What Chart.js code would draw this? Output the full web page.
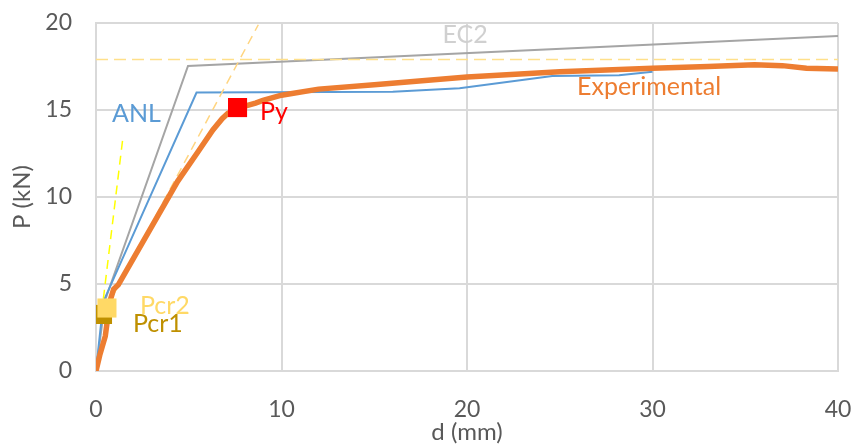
<!DOCTYPE html>
<html>
<head>
<meta charset="utf-8">
<script src="https://cdn.jsdelivr.net/npm/chart.js@4"></script>
<style>
  html, body { margin: 0; padding: 0; background: #fff; }
  #wrap { width: 854px; height: 447px; }
</style>
</head>
<body>
<div id="wrap"><canvas id="pdChart"></canvas></div>
<script>
// 数据 - 荷载位移曲线 d (mm) / P (kN)
const expD = [0, 0.2, 0.5, 0.75, 0.95, 1.2, 3, 4.4, 5.5, 6.3, 6.8, 7.1, 7.6, 8.6, 9, 10, 12, 15, 20, 25, 30, 33, 35.5, 37, 38.3, 40];
const expP = [0, 0.9, 2.0, 4.0, 4.7, 4.95, 8.3, 10.9, 12.6, 13.85, 14.5, 14.8, 15.1, 15.4, 15.55, 15.85, 16.2, 16.45, 16.9, 17.2, 17.4, 17.5, 17.6, 17.55, 17.4, 17.35];

const anlD = [0, 0.4, 5.42, 16, 19.6, 24.6, 28.2, 30];
const anlP = [0, 4.0, 16.0, 16.05, 16.25, 16.95, 17.0, 17.2];

const ec2D = [0, 0.5, 4.96, 40];
const ec2P = [0, 4.1, 17.53, 19.25];

const tan1D = [0.3, 1.46];      // 初始刚度虚线
const tan1P = [3.3, 13.5];
const tan2D = [0.55, 8.75];     // 开裂后刚度虚线
const tan2P = [3.6, 19.9];
const capD = [0, 40];           // 极限荷载水平虚线
const capP = [17.9, 17.9];

const pcr1 = { d: 0.35, p: 3.25 };
const pcr2 = { d: 0.59, p: 3.62 };
const py = { d: 7.63, p: 15.14 };

const xTicks = [0, 10, 20, 30, 40];
const yTicks = [0, 5, 10, 15, 20];

// 文字标注 (数据坐标)
const notes = [
    { text: 'EC2', d: 19.9, p: 19.3, color: '#d0d0d0', align: 'center' },
    { text: 'ANL', d: 0.86, p: 14.8, color: '#5b9bd5', align: 'left' },
    { text: 'Py', d: 8.84, p: 14.86, color: '#ff0000', align: 'left' },
    { text: 'Experimental', d: 25.93, p: 16.35, color: '#ed7d31', align: 'left' },
    { text: 'Pcr2', d: 2.37, p: 3.74, color: '#ffd966', align: 'left' },
    { text: 'Pcr1', d: 1.99, p: 2.73, color: '#bf9000', align: 'left' }
];

const FONT = 'Lato, "Open Sans", sans-serif';

function pts(xs, ys) {
    return xs.map((x, i) => ({ x: x, y: ys[i] }));
}

const notesPlugin = {
    id: 'notes',
    afterDatasetsDraw(chart) {
        const { ctx, scales } = chart;
        ctx.save();
        ctx.font = '25px ' + FONT;
        ctx.textBaseline = 'middle';
        notes.forEach(n => {
            ctx.fillStyle = n.color;
            ctx.textAlign = n.align;
            ctx.fillText(n.text, scales.x.getPixelForValue(n.d), scales.y.getPixelForValue(n.p));
        });
        ctx.restore();
    }
};

const lineSet = (label, data, color, width, dash, order) => ({
    label, data,
    borderColor: color,
    borderWidth: width,
    borderDash: dash || [],
    pointRadius: 0,
    showLine: true,
    fill: false,
    tension: 0,
    order
});

const pointSet = (label, pt, color, order) => ({
    label,
    data: [{ x: pt.d, y: pt.p }],
    backgroundColor: color,
    borderColor: color,
    pointStyle: 'rect',
    pointRadius: 13.5,
    borderWidth: 0,
    showLine: false,
    order
});

new Chart(document.getElementById('pdChart'), {
    type: 'scatter',
    data: {
        datasets: [
            pointSet('Py', py, '#ff0000', 0),
            pointSet('Pcr2', pcr2, '#ffd966', 1),
            pointSet('Pcr1', pcr1, '#bf9000', 2),
            lineSet('Experimental', pts(expD, expP), '#ed7d31', 5.5, null, 3),
            lineSet('tan2', pts(tan2D, tan2P), '#ffd580', 1.5, [9, 6], 4),
            lineSet('cap', pts(capD, capP), '#ffe08a', 1.5, [12, 6], 5),
            lineSet('tan1', pts(tan1D, tan1P), '#ffff00', 1.5, [9, 6], 6),
            lineSet('ANL', pts(anlD, anlP), '#5b9bd5', 2, null, 7),
            lineSet('EC2', pts(ec2D, ec2P), '#a5a5a5', 2, null, 8)
        ]
    },
    options: {
        responsive: true,
        maintainAspectRatio: false,
        animation: false,
        layout: { padding: { top: 23, right: 16, left: 0, bottom: 0 } },
        plugins: {
            legend: { display: false },
            tooltip: { enabled: false }
        },
        scales: {
            x: {
                type: 'linear',
                min: 0,
                max: 40,
                afterBuildTicks: s => { s.ticks = xTicks.map(v => ({ value: v })); },
                afterFit: s => { s.height = 76; s.paddingLeft = 0; s.paddingRight = 0; },
                grid: { color: '#d9d9d9', lineWidth: 2, drawTicks: false },
                border: { color: '#d9d9d9', width: 2 },
                ticks: { color: '#595959', padding: 25, font: { family: FONT, size: 23 } },
                title: {
                    display: true,
                    text: 'd (mm)',
                    color: '#595959',
                    padding: { top: 0, bottom: 0 },
                    font: { family: FONT, size: 24 }
                }
            },
            y: {
                type: 'linear',
                min: 0,
                max: 20,
                afterBuildTicks: s => { s.ticks = yTicks.map(v => ({ value: v })); },
                afterFit: s => { s.width = 96; s.paddingTop = 0; s.paddingBottom = 0; },
                grid: { color: '#d9d9d9', lineWidth: 2, drawTicks: false },
                border: { color: '#d9d9d9', width: 2 },
                ticks: { color: '#595959', padding: 24, font: { family: FONT, size: 23 } },
                title: {
                    display: true,
                    text: 'P (kN)',
                    color: '#595959',
                    padding: { top: 8, bottom: 0 },
                    font: { family: FONT, size: 24 }
                }
            }
        }
    },
    plugins: [notesPlugin]
});
</script>
</body>
</html>
